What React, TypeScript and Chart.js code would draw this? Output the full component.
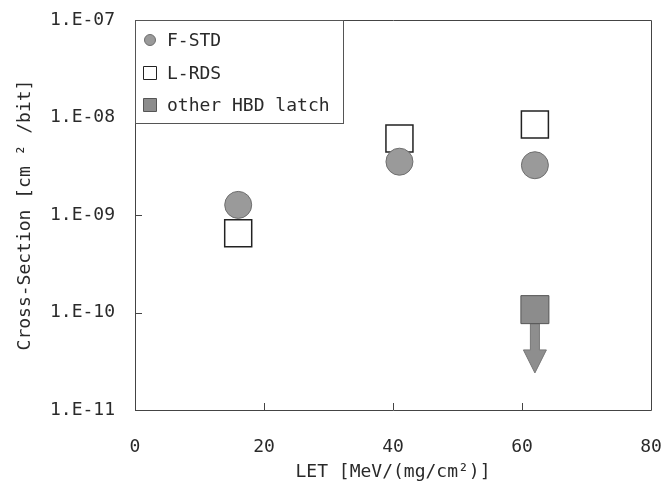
import React, { useEffect, useRef } from 'react';
import { Chart, registerables } from 'chart.js';

Chart.register(...registerables);

// ---- data ----
const seriesNames = ['F-STD', 'L-RDS', 'other HBD latch'];
const fstdLET = [16, 41, 62];
const fstdCS = [1.27e-9, 3.52e-9, 3.24e-9];
const lrdsLET = [16, 41, 62];
const lrdsCS = [6.5e-10, 6.1e-9, 8.5e-9];
const hbdLET = [62];
const hbdCS = [1.07e-10];
const hbdArrowTo = [2.4e-11]; // upper-limit arrow tip
const xTicks = [0, 20, 40, 60, 80];
const yTicks = [1e-11, 1e-10, 1e-9, 1e-8, 1e-7];
const yTickLabels = ['1.E-11', '1.E-10', '1.E-09', '1.E-08', '1.E-07'];
const xTitle = 'LET [MeV/(mg/cm²)]';
const yTitle = 'Cross-Section [cm ² /bit]';

const FONT = '"DejaVu Sans Mono", "Liberation Mono", monospace';
const TEXT = '#2a2a2a';

const framePlugin = {
  id: 'frameTicks',
  beforeDatasetsDraw(chart: any) {
    const { ctx, chartArea: a, scales } = chart;
    ctx.save();
    ctx.strokeStyle = '#444';
    ctx.lineWidth = 1;
    ctx.beginPath();
    ctx.rect(Math.round(a.left) + 0.5, Math.round(a.top) + 0.5, Math.round(a.right - a.left), Math.round(a.bottom - a.top));
    ctx.stroke();
    // inward tick marks
    const tl = 7;
    ctx.beginPath();
    scales.x.ticks.forEach((t: any) => {
      const px = Math.round(scales.x.getPixelForValue(t.value)) + 0.5;
      ctx.moveTo(px, a.bottom);
      ctx.lineTo(px, a.bottom - tl);
    });
    scales.y.ticks.forEach((t: any) => {
      const py = Math.round(scales.y.getPixelForValue(t.value)) + 0.5;
      ctx.moveTo(a.left, py);
      ctx.lineTo(a.left + tl, py);
    });
    ctx.stroke();
    // upper-limit arrows for "other HBD latch"
    const meta = chart.getDatasetMeta(2);
    const ds = chart.data.datasets[2];
    meta.data.forEach((el: any, i: number) => {
      const half = ds.pointRadius * Math.SQRT1_2;
      const x = el.x;
      const y0 = el.y + half;
      const tip = scales.y.getPixelForValue(hbdArrowTo[i]);
      const headH = 23, headW = 23, shaftW = 9;
      ctx.fillStyle = '#8e8e8e';
      ctx.strokeStyle = '#777';
      ctx.beginPath();
      ctx.moveTo(x - shaftW / 2, y0);
      ctx.lineTo(x + shaftW / 2, y0);
      ctx.lineTo(x + shaftW / 2, tip - headH);
      ctx.lineTo(x + headW / 2, tip - headH);
      ctx.lineTo(x, tip);
      ctx.lineTo(x - headW / 2, tip - headH);
      ctx.lineTo(x - shaftW / 2, tip - headH);
      ctx.closePath();
      ctx.fill();
      ctx.stroke();
    });
    ctx.restore();
  },
  afterDraw(chart: any) {
    const { ctx, chartArea: a } = chart;
    const left = a.left, top = a.top, w = 208, h = 103;
    ctx.save();
    ctx.fillStyle = '#fff';
    ctx.fillRect(left, top, w, h);
    ctx.strokeStyle = '#555';
    ctx.lineWidth = 1;
    ctx.strokeRect(Math.round(left) + 0.5, Math.round(top) + 0.5, w, h);
    ctx.font = `18px ${FONT}`;
    ctx.textBaseline = 'middle';
    ctx.textAlign = 'left';
    const rows = [20, 53, 85];
    chart.data.datasets.forEach((ds: any, i: number) => {
      const cy = top + rows[i];
      const cx = left + 15;
      ctx.fillStyle = ds.backgroundColor;
      ctx.strokeStyle = ds.borderColor;
      ctx.lineWidth = 1;
      ctx.beginPath();
      if (ds.pointStyle === 'circle') {
        ctx.arc(cx, cy, 5.5, 0, Math.PI * 2);
      } else {
        ctx.rect(cx - 6.5, cy - 6.5, 13, 13);
      }
      ctx.fill();
      ctx.stroke();
      ctx.fillStyle = TEXT;
      ctx.fillText(ds.label, left + 32, cy + 1);
    });
    ctx.restore();
  },
};

export default function App() {
  const ref = useRef<HTMLCanvasElement>(null);
  useEffect(() => {
    if (!ref.current) return;
    const chart = new Chart(ref.current, {
      type: 'scatter',
      data: {
        datasets: [
          {
            label: seriesNames[0],
            data: fstdLET.map((x, i) => ({ x, y: fstdCS[i] })),
            pointStyle: 'circle',
            pointRadius: 13.5,
            backgroundColor: '#9a9a9a',
            borderColor: '#6e6e6e',
            borderWidth: 1,
          },
          {
            label: seriesNames[1],
            data: lrdsLET.map((x, i) => ({ x, y: lrdsCS[i] })),
            pointStyle: 'rect',
            pointRadius: 19.1,
            backgroundColor: '#ffffff',
            borderColor: '#222222',
            borderWidth: 1.5,
          },
          {
            label: seriesNames[2],
            data: hbdLET.map((x, i) => ({ x, y: hbdCS[i] })),
            pointStyle: 'rect',
            pointRadius: 19.8,
            backgroundColor: '#8c8c8c',
            borderColor: '#555555',
            borderWidth: 1,
          },
        ] as any,
      },
      options: {
        animation: false,
        responsive: false,
        events: [],
        layout: { autoPadding: false, padding: { top: 20, right: 12, left: 0, bottom: 0 } },
        plugins: { legend: { display: false }, tooltip: { enabled: false } },
        scales: {
          x: {
            type: 'linear',
            min: 0,
            max: 80,
            grid: { display: false, drawTicks: false, tickLength: 0 },
            border: { display: false },
            afterBuildTicks: (s: any) => {
              s.ticks = xTicks.map((v) => ({ value: v }));
            },
            afterFit: (s: any) => {
              s.height = 94;
              s.paddingLeft = 0;
              s.paddingRight = 0;
            },
            ticks: {
              autoSkip: false,
              maxRotation: 0,
              padding: 0,
              color: TEXT,
              font: { family: FONT, size: 18, lineHeight: 4.2 },
              callback: (v: any) => String(v),
            },
            title: {
              display: true,
              text: xTitle,
              color: TEXT,
              font: { family: FONT, size: 18 },
              padding: { top: 0, bottom: 21 },
            },
          },
          y: {
            type: 'logarithmic',
            min: 1e-11,
            max: 1e-7,
            grid: { display: false, drawTicks: false, tickLength: 0 },
            border: { display: false },
            afterBuildTicks: (s: any) => {
              s.ticks = yTicks.map((v) => ({ value: v }));
            },
            afterFit: (s: any) => {
              s.width = 135;
              s.paddingTop = 0;
              s.paddingBottom = 0;
            },
            ticks: {
              autoSkip: false,
              padding: 20,
              color: TEXT,
              font: { family: FONT, size: 18 },
              callback: (v: any) => {
                const i = yTicks.findIndex((t) => Math.abs(t - v) / t < 1e-6);
                return i >= 0 ? yTickLabels[i] : '';
              },
            },
            title: {
              display: true,
              text: yTitle,
              color: TEXT,
              font: { family: FONT, size: 18 },
              padding: { top: 15, bottom: 0 },
            },
          },
        },
      },
      plugins: [framePlugin],
    });
    return () => chart.destroy();
  }, []);
  return (
    <div style={{ position: 'absolute', left: 0, top: 0, width: 663, height: 504, background: '#fff' }}>
      <canvas ref={ref} width={663} height={504} style={{ display: 'block', width: 663, height: 504 }} />
    </div>
  );
}
